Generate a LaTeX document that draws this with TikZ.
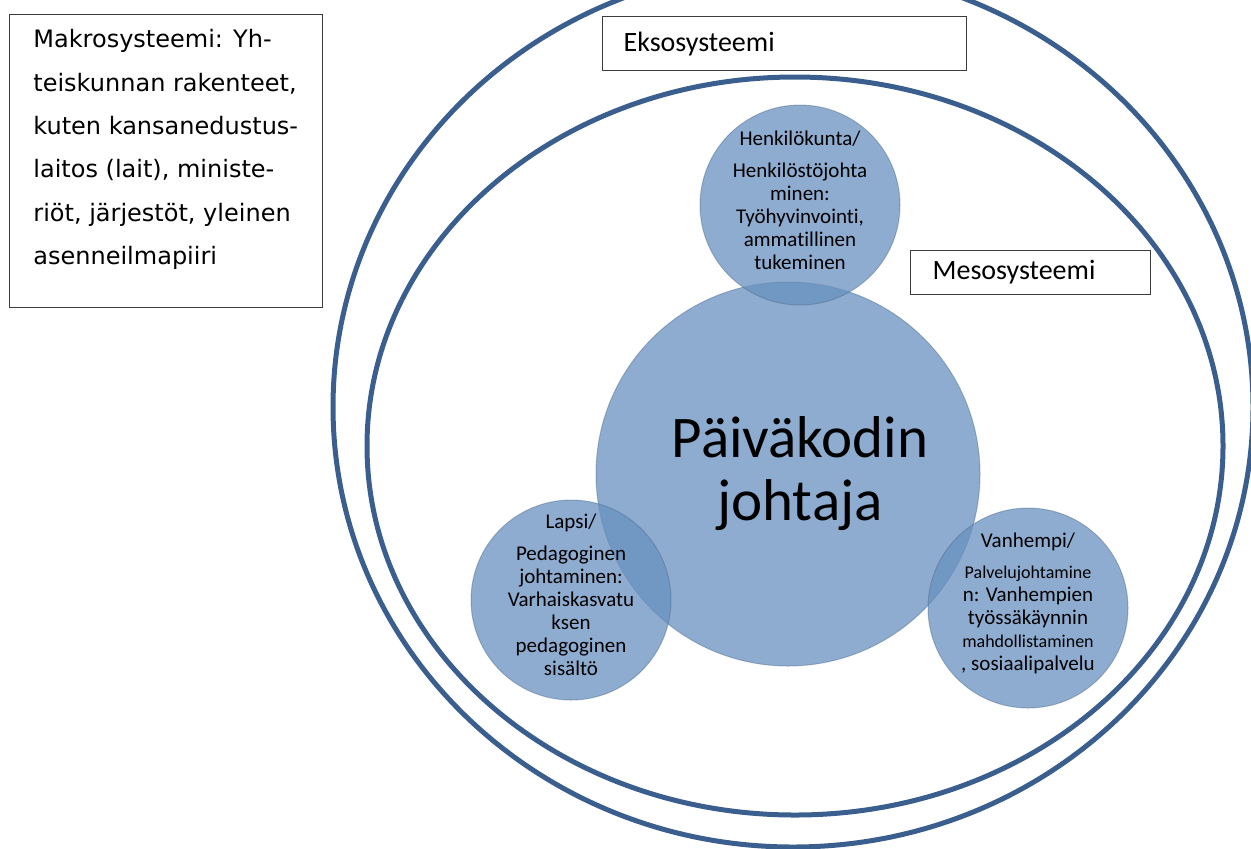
\documentclass[tikz,border=0pt]{standalone}
\usepackage{fontspec}
\setmainfont{Carlito}[Ligatures=NoCommon]
\newfontfamily\makrofont{DejaVu Sans}
\definecolor{ringblue}{RGB}{58,94,142}
\definecolor{discblue}{RGB}{104,144,191}
\definecolor{boxgray}{RGB}{60,60,60}

\begin{document}
\begin{tikzpicture}[
    x=0.5pt, y=0.5pt,
    ring/.style={draw=ringblue, line width=2.5pt},
    sysbox/.style={rectangle, draw=boxgray, line width=0.6pt, fill=white, anchor=north west, inner sep=0pt},
    syslabel/.style={sysbox, inner xsep=10.5pt, align=left, font=\fontsize{14}{16}\selectfont},
    disc/.style={circle, fill=discblue, fill opacity=0.75, text opacity=1, draw=discblue!70!black, draw opacity=0.4, line width=0.5pt, inner sep=0pt},
    role/.style={disc, minimum size=100pt},
    roletext/.style={align=center, inner sep=0pt, yshift=2.5pt, font=\fontsize{10.5}{11.5}\selectfont},
]

% page size
\useasboundingbox (0,0) rectangle (1251,-848);

% system rings
\draw[ring] (793,-407) ellipse [x radius=460, y radius=440];
\draw[ring] (795,-446) ellipse [x radius=428, y radius=369];

% system labels
\node[sysbox, minimum width=156.5pt, minimum height=146.5pt] (makrobox) at (9,-14) {};
\node[anchor=north west, inner sep=0pt, align=left, font=\makrofont\fontsize{12}{21.7}\selectfont] (makro) at (33,-29)
    {Makrosysteemi: Yh-\\teiskunnan rakenteet,\\kuten kansanedustus-\\laitos (lait), ministe-\\riöt, järjestöt, yleinen\\asenneilmapiiri};
\node[syslabel, minimum width=182pt, minimum height=27pt, text width=161pt] (ekso) at (602,-16) {Eksosysteemi};
\node[syslabel, minimum width=119pt, minimum height=22pt, text width=98pt, inner xsep=11pt] (meso) at (910,-250) {Mesosysteemi};

% leader in the middle
\node[disc, minimum size=192pt, align=center, font=\fontsize{29.5}{31.5}\selectfont] (johtaja) at (788,-474) {\hspace*{12pt}Päiväkodin\\\hspace*{12pt}johtaja};

% the three partners
\node[role] (henkilo) at (800,-205) {};
\node[role] (lapsi) at (571,-600) {};
\node[role] (vanhempi) at (1028,-608) {};

\node[roletext] (henkilotxt) at (henkilo)
    {Henkilökunta/\\[4.5pt]Henkilöstöjohta\\minen:\\Työhyvinvointi,\\ammatillinen\\tukeminen};
\node[roletext] (lapsitxt) at (lapsi)
    {Lapsi/\\[4.5pt]Pedagoginen\\johtaminen:\\Varhaiskasvatu\\ksen\\pedagoginen\\sisältö};
\node[roletext] (vanhempitxt) at (vanhempi)
    {Vanhempi/\\[4pt]{\fontsize{9}{11}\selectfont Palvelujohtamine}\\n: Vanhempien\\työssäkäynnin\\{\fontsize{9}{11}\selectfont mahdollistaminen}\\, sosiaalipalvelu};

\end{tikzpicture}
\end{document}
